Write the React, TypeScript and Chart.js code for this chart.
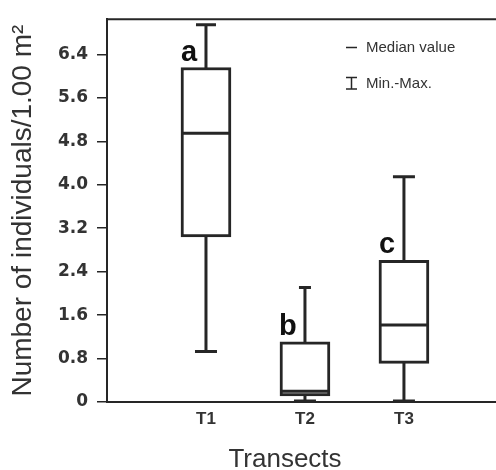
import React, { useEffect, useRef } from "react";
import { Chart, registerables } from "chart.js";

Chart.register(...registerables);

const categories = ["T1", "T2", "T3"];
const minValues = [0.93, 0.02, 0.02];
const q1Values = [3.04, 0.11, 0.71];
const medianValues = [4.95, 0.2, 1.42];
const q3Values = [6.16, 1.11, 2.61];
const maxValues = [6.95, 2.11, 4.15];
const groupLetters = ["a", "b", "c"];
const yTickValues = [0, 0.8, 1.6, 2.4, 3.2, 4.0, 4.8, 5.6, 6.4];
const yTickLabels = ["0", "0.8", "1.6", "2.4", "3.2", "4.0", "4.8", "5.6", "6.4"];
const legendLabels = ["Median value", "Min.-Max."];
const xTitle = "Transects";
const yTitle = "Number of individuals/1.00 m²";

const INK = "#262626";

const boxPlugin = {
  id: "boxExtras",
  afterDatasetsDraw(chart: any) {
    const { ctx, chartArea } = chart;
    const xs = chart.scales.x;
    const ys = chart.scales.y;
    const half = 25;
    const caps = [10, 6, 11];
    ctx.save();
    ctx.strokeStyle = INK;
    ctx.lineWidth = 3;
    ctx.lineCap = "butt";
    categories.forEach((_, i) => {
      const x = xs.getPixelForValue(i + 1);
      const yMin = ys.getPixelForValue(minValues[i]);
      const yQ1 = ys.getPixelForValue(q1Values[i]);
      const yMed = ys.getPixelForValue(medianValues[i]);
      const yQ3 = ys.getPixelForValue(q3Values[i]);
      const yMax = ys.getPixelForValue(maxValues[i]);
      ctx.beginPath();
      ctx.moveTo(x, yQ3 + 1);
      ctx.lineTo(x, yMax);
      ctx.moveTo(x, yQ1 - 1);
      ctx.lineTo(x, yMin);
      ctx.moveTo(x - caps[i], yMax);
      ctx.lineTo(x + caps[i], yMax);
      ctx.moveTo(x - 11, yMin);
      ctx.lineTo(x + 11, yMin);
      ctx.moveTo(x - half + 2, yMed);
      ctx.lineTo(x + half - 2, yMed);
      ctx.stroke();
      ctx.fillStyle = "#111";
      ctx.font = "bold 29px 'Liberation Sans', Arial, sans-serif";
      ctx.textAlign = "center";
      ctx.textBaseline = "alphabetic";
      ctx.fillText(groupLetters[i], x - 17, yQ3 - 7);
    });
    // top frame line
    ctx.lineWidth = 2;
    ctx.beginPath();
    ctx.moveTo(chartArea.left, chartArea.top);
    ctx.lineTo(chartArea.right, chartArea.top);
    ctx.stroke();
    // legend
    ctx.lineWidth = 1.5;
    ctx.beginPath();
    ctx.moveTo(346, 47.5);
    ctx.lineTo(357, 47.5);
    ctx.moveTo(346, 77.5);
    ctx.lineTo(357, 77.5);
    ctx.moveTo(346, 89);
    ctx.lineTo(357, 89);
    ctx.moveTo(351.5, 77.5);
    ctx.lineTo(351.5, 89);
    ctx.stroke();
    ctx.fillStyle = "#333";
    ctx.font = "15px 'Liberation Sans', Arial, sans-serif";
    ctx.textAlign = "left";
    ctx.textBaseline = "middle";
    ctx.fillText(legendLabels[0], 366, 48);
    ctx.fillText(legendLabels[1], 366, 84);
    // x axis title
    ctx.font = "26px 'Liberation Sans', Arial, sans-serif";
    ctx.textAlign = "center";
    ctx.textBaseline = "alphabetic";
    ctx.fillText(xTitle, 285, 467);
    ctx.restore();
  },
};

export default function App() {
  const ref = useRef<HTMLCanvasElement>(null);
  useEffect(() => {
    if (!ref.current) return;
    const chart = new Chart(ref.current, {
      type: "bar",
      data: {
        datasets: [
          {
            data: categories.map((_, i) => ({ x: i + 1, y: [q1Values[i], q3Values[i]] })) as any,
            backgroundColor: "#ffffff",
            borderColor: INK,
            borderWidth: 3,
            borderSkipped: false,
            barThickness: 50,
          },
        ],
      },
      options: {
        responsive: false,
        animation: false,
        layout: { padding: { top: 14, left: 0, right: 0, bottom: 0 } },
        plugins: { legend: { display: false }, tooltip: { enabled: false } },
        scales: {
          x: {
            type: "linear",
            position: "bottom",
            offset: false,
            min: 0,
            max: 3.93,
            afterBuildTicks: (s: any) => {
              s.ticks = categories.map((_, i) => ({ value: i + 1 }));
            },
            afterFit: (s: any) => {
              s.height = 68;
            },
            ticks: {
              callback: (v: any) => categories[Math.round(v) - 1] ?? "",
              font: { family: "'Liberation Sans', Arial, sans-serif", size: 17, weight: "bold" },
              color: "#333",
              padding: 7,
              maxRotation: 0,
            },
            grid: { display: false, drawTicks: false, offset: false },
            border: { display: true, color: INK, width: 2 },
            title: { display: false },
          },
          y: {
            type: "linear",
            min: 0,
            max: 7.05,
            afterBuildTicks: (s: any) => {
              s.ticks = yTickValues.map((v) => ({ value: v }));
            },
            afterFit: (s: any) => {
              s.width = 107;
            },
            ticks: {
              callback: (v: any) => {
                const idx = yTickValues.findIndex((t) => Math.abs(t - v) < 1e-6);
                return idx >= 0 ? yTickLabels[idx] : "";
              },
              font: { family: "'DejaVu Sans', sans-serif", size: 17, weight: "bold" },
              color: "#333",
              padding: 9,
            },
            grid: {
              drawOnChartArea: false,
              drawTicks: true,
              tickLength: 10,
              color: INK,
              lineWidth: 1.5,
            },
            border: { display: true, color: INK, width: 2 },
            title: {
              display: true,
              text: yTitle,
              font: { family: "'Liberation Sans', Arial, sans-serif", size: 28, lineHeight: 1 },
              color: "#333",
              padding: { top: 9, bottom: 0 },
            },
          },
        },
      },
      plugins: [boxPlugin],
    });
    return () => chart.destroy();
  }, []);
  return (
    <div style={{ position: "absolute", left: 0, top: 0, width: 496, height: 470, background: "#fff" }}>
      <canvas ref={ref} width={496} height={470} style={{ width: 496, height: 470 }} />
    </div>
  );
}
